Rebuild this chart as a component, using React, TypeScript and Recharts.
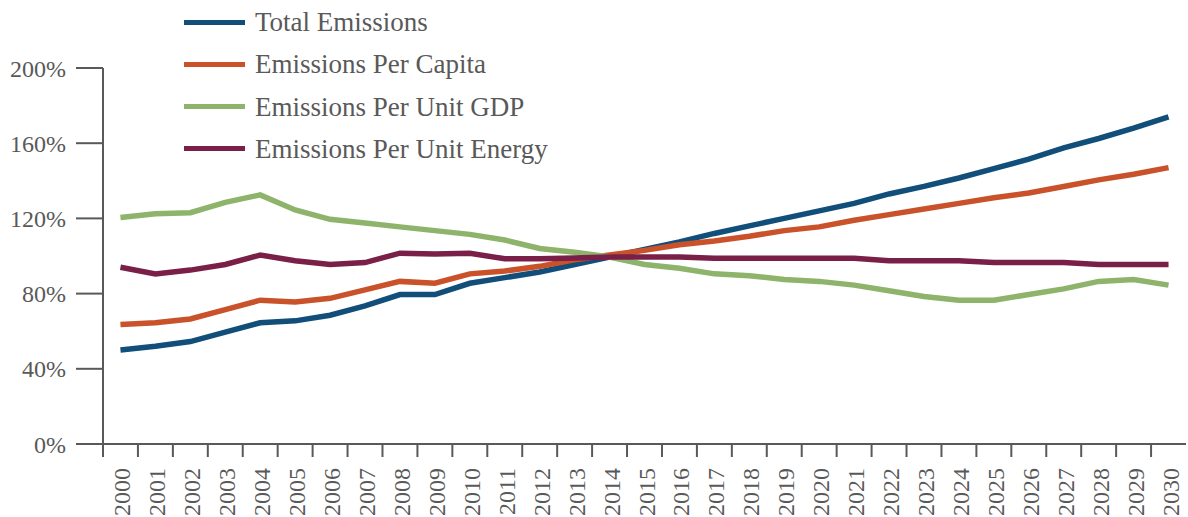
import React from 'react';
import { LineChart, Line, XAxis, YAxis } from 'recharts';

const years = ['2000','2001','2002','2003','2004','2005','2006','2007','2008','2009','2010','2011','2012','2013','2014','2015','2016','2017','2018','2019','2020','2021','2022','2023','2024','2025','2026','2027','2028','2029','2030'];
const totalEmissions = [50, 52, 54.5, 59.5, 64.5, 65.5, 68.5, 73.5, 79.5, 79.5, 85.5, 88.5, 91.5, 95.5, 99.5, 103.5, 107.5, 112, 116, 120, 124, 128, 133, 137, 141.5, 146.5, 151.5, 157.5, 162.5, 168, 174];
const perCapita = [63.5, 64.5, 66.5, 71.5, 76.5, 75.5, 77.5, 82, 86.5, 85.5, 90.5, 92, 94.5, 98, 100.5, 103, 106, 108, 110.5, 113.5, 115.5, 119, 122, 125, 128, 131, 133.5, 137, 140.5, 143.5, 147];
const perUnitGDP = [120.5, 122.5, 123, 128.5, 132.5, 124.5, 119.5, 117.5, 115.5, 113.5, 111.5, 108.5, 104, 102, 99.5, 95.5, 93.5, 90.5, 89.5, 87.5, 86.5, 84.5, 81.5, 78.5, 76.5, 76.5, 79.5, 82.5, 86.5, 87.5, 84.5];
const perUnitEnergy = [94, 90.5, 92.5, 95.5, 100.5, 97.5, 95.5, 96.5, 101.5, 101, 101.5, 98.5, 98.5, 99, 99.5, 99.5, 99.5, 98.8, 98.8, 98.8, 98.8, 98.8, 97.5, 97.5, 97.5, 96.5, 96.5, 96.5, 95.5, 95.5, 95.5];
const yTicks = [0, 40, 80, 120, 160, 200];

const seriesNames = ['Total Emissions', 'Emissions Per Capita', 'Emissions Per Unit GDP', 'Emissions Per Unit Energy'];
const seriesKeys = ['total', 'capita', 'gdp', 'energy'];
const seriesColors = ['#124e7a', '#c9522a', '#8db46a', '#7a1f47'];

const data = years.map((y, i) => ({
  year: y,
  total: totalEmissions[i],
  capita: perCapita[i],
  gdp: perUnitGDP[i],
  energy: perUnitEnergy[i],
}));

const FONT = '"Liberation Serif", "DejaVu Serif", serif';
const TEXT = '#595959';
const AXIS = '#595959';
const STEP = 34.93;

const XTick = (props: any) => {
  const { x, y, payload } = props;
  return (
    <g>
      <line x1={x - STEP / 2} x2={x - STEP / 2} y1={y} y2={y + 13} stroke={AXIS} strokeWidth={2} />
      <text
        x={x + 10}
        y={y + 24}
        transform={`rotate(-90, ${x + 10}, ${y + 24})`}
        textAnchor="end"
        fill={TEXT}
        fontFamily={FONT}
        fontSize={24}
      >
        {payload.value}
      </text>
    </g>
  );
};

export default function App() {
  return (
    <div style={{ position: 'absolute', left: 0, top: 0, width: 1188, height: 517, background: '#fff' }}>
      <LineChart width={1188} height={517} data={data} margin={{ top: 68, right: 2, left: 0, bottom: 0 }}>
        <XAxis
          dataKey="year"
          height={73}
          padding={{ left: STEP / 2, right: STEP / 2 }}
          interval={0}
          tickLine={false}
          tickSize={0}
          tickMargin={0}
          tick={<XTick />}
          axisLine={{ stroke: AXIS, strokeWidth: 2 }}
        />
        <YAxis
          width={103}
          domain={[0, 200]}
          ticks={yTicks}
          interval={0}
          tickFormatter={(v: number) => `${v}%`}
          tickSize={27}
          tickMargin={10}
          tickLine={{ stroke: AXIS, strokeWidth: 2 }}
          axisLine={{ stroke: AXIS, strokeWidth: 2 }}
          tick={{ fill: TEXT, fontFamily: FONT, fontSize: 24 }}
        />
        {seriesKeys.map((k, i) => (
          <Line
            key={k}
            type="linear"
            dataKey={k}
            name={seriesNames[i]}
            stroke={seriesColors[i]}
            strokeWidth={5.5}
            dot={false}
            activeDot={false}
            isAnimationActive={false}
          />
        ))}
      </LineChart>
      <div style={{ position: 'absolute', left: 184, top: 0, width: 420, height: 170 }}>
        {seriesNames.map((n, i) => (
          <div key={n} style={{ position: 'absolute', left: 0, top: 22 + i * 42.3 - 20, height: 40, display: 'flex', alignItems: 'center' }}>
            <div style={{ width: 61, height: 5, background: seriesColors[i] }} />
            <span style={{ marginLeft: 10, fontFamily: FONT, fontSize: 27, color: TEXT, whiteSpace: 'nowrap', lineHeight: '40px' }}>{n}</span>
          </div>
        ))}
      </div>
    </div>
  );
}
